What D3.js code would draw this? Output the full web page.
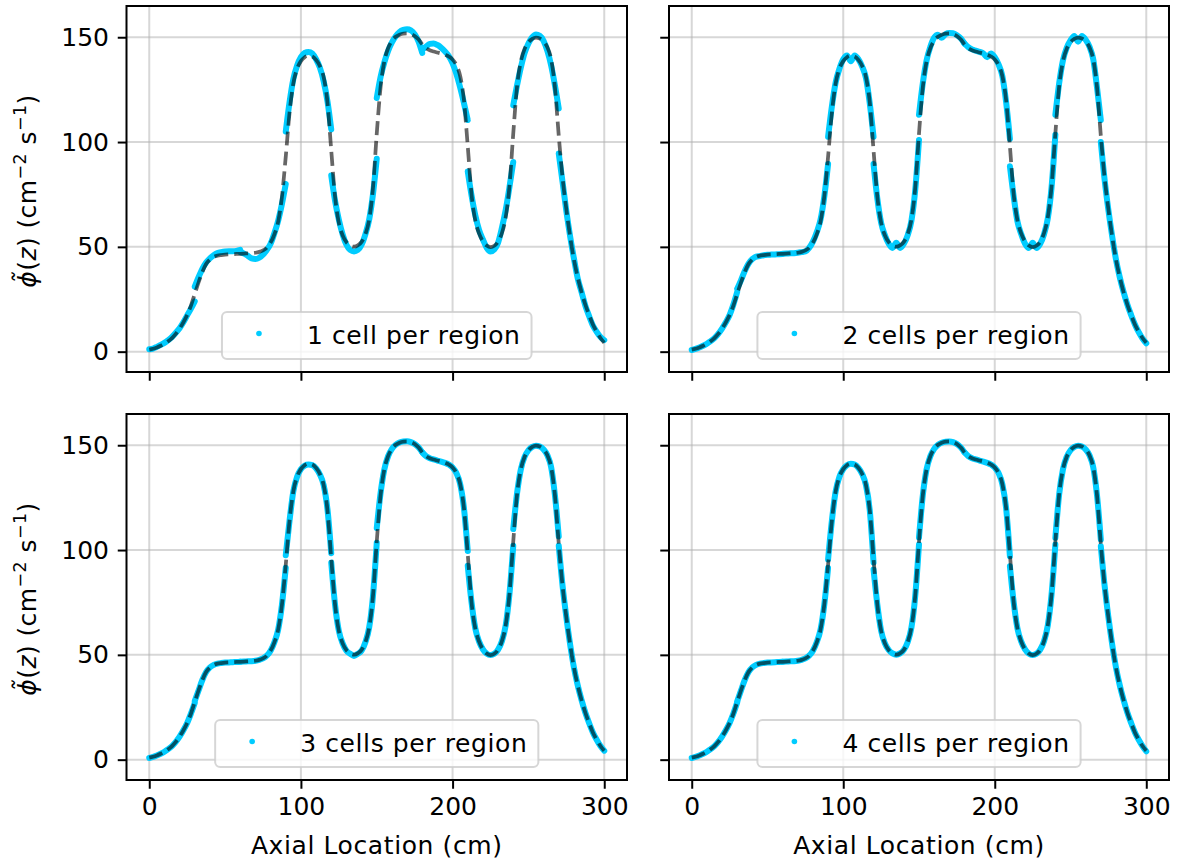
<!DOCTYPE html>
<html><head><meta charset="utf-8">
<script src="https://cdn.jsdelivr.net/npm/d3@7"></script>
<style>body{margin:0;background:#fff} svg{display:block} text{font-family:"DejaVu Sans",sans-serif;fill:#000}</style>
</head><body><svg id="c" width="1178" height="865"></svg>
<script>
// ---------------- data ----------------
const zGrid = [0,2.5,5,7.5,10,12.5,15,17.5,20,22.5,25,27.5,30,32.5,35,37.5,40,42.5,45,47.5,50,52.5,55,57.5,60,62.5,65,67.5,70,72.5,75,77.5,80,82.5,85,87.5,90,92.5,95,97.5,100,102.5,105,107.5,110,112.5,115,117.5,120,122.5,125,127.5,130,132.5,135,137.5,140,142.5,145,147.5,150,152.5,155,157.5,160,162.5,165,167.5,170,172.5,175,177.5,180,182.5,185,187.5,190,192.5,195,197.5,200,202.5,205,207.5,210,212.5,215,217.5,220,222.5,225,227.5,230,232.5,235,237.5,240,242.5,245,247.5,250,252.5,255,257.5,260,262.5,265,267.5,270,272.5,275,277.5,280,282.5,285,287.5,290,292.5,295,297.5,300];

const referenceFlux = [1.0,1.4,2.0,2.8,3.8,5.0,6.5,8.5,11.0,14.0,17.5,22.0,27.5,33.0,38.0,41.8,44.0,45.2,45.8,46.1,46.3,46.4,46.5,46.6,46.7,46.8,46.9,47.0,47.2,47.6,48.3,49.6,52.0,56.0,62.0,74.0,93.0,114.0,128.0,135.0,138.6,140.5,141.2,140.8,139.2,136.3,131.0,119.0,96.0,74.0,61.5,55.5,52.3,50.7,50.1,50.7,52.4,56.0,63.0,78.0,104.0,126.0,138.5,144.8,148.3,150.2,151.2,151.7,151.8,151.5,150.6,149.0,146.6,144.8,143.8,143.2,142.7,142.2,141.6,140.8,139.4,136.7,131.5,120.0,98.0,75.0,62.5,56.3,52.6,50.6,49.9,50.5,52.5,56.5,64.0,79.0,104.0,126.5,138.5,144.5,147.6,149.2,149.8,149.4,148.0,145.2,139.5,126.0,103.0,83.0,68.0,55.0,44.0,35.5,28.5,22.5,17.5,13.0,9.5,6.5,4.3];

// cyan reconstructions: 10 regions of 30 cm, 13 samples each (2.5 cm apart)
const oneCell = [
  [1.2,1.5,2.3,3.2,4.2,5.5,7.0,9.0,11.2,14.0,17.3,20.5,24.0],
  [31.0,35.5,39.5,42.5,44.5,46.0,47.0,47.5,47.8,47.9,47.9,48.1,48.6],
  [47.5,46.8,45.7,44.5,44.2,44.8,46.3,48.5,51.5,56.5,62.5,70.5,80.0],
  [105,119,130,136.5,140.5,142.5,143,142.2,139.5,135.5,129,119.5,106],
  [84,72,63,56,51,48.5,47.8,48.5,51,56,63,75,92],
  [121,131,138,143.5,147.5,150.5,152.5,153.5,153.8,153.3,151.5,148,142.5],
  [144,145.5,146.8,147,146.3,145,143.2,141,137.5,132.5,126,118.5,110.5],
  [86,74.5,65,58,53.5,49.5,47.8,48.8,52,59,67.5,78.5,90.5],
  [117.5,127,135.5,142.5,147,150,151.3,150.7,148.3,143.5,136.5,127,116],
  [94.5,81,67,55,44.5,35,28.5,22,17,12.5,9.5,7,5.5]
];
const twoCells = [
  [0.8,1.3,2.0,2.8,3.8,5.0,6.5,8.5,11.0,14.0,17.5,22.5,28.5],
  [30.0,34.0,38.5,42.0,44.2,45.3,45.6,46.0,46.2,46.3,46.4,46.5,46.6],
  [46.7,46.8,46.9,47.0,47.2,47.5,47.8,49.5,52.5,57.0,63.0,74.0,89.5],
  [102.5,117.0,128.5,135.0,139.5,141.3,138.5,141.3,139.5,136.0,130.5,118.5,102.5],
  [89.5,73.0,61.5,55.5,51.5,49.5,52.0,49.5,51.5,55.5,62.5,77.0,101.0],
  [113.0,128.0,139.0,145.5,149.8,151.2,149.8,151.5,152.0,151.9,151.0,149.5,147.0],
  [147.0,145.3,144.2,143.6,143.0,142.3,140.5,142.3,140.5,137.0,131.5,119.0,101.5],
  [88.5,74.0,62.0,56.0,51.5,49.5,52.0,49.5,51.5,56.0,63.5,78.5,103.5],
  [113.0,128.0,139.0,145.0,148.5,150.6,147.9,150.6,148.8,145.5,139.5,126.0,110.5],
  [100.0,82.0,67.5,55.0,44.0,35.5,28.5,22.5,17.5,13.0,9.3,6.3,4.0]
];
const threeCells = [
  [0.8,1.3,2.0,2.8,3.8,5.0,6.5,8.5,11.0,14.0,17.5,22.0,27.0],
  [28.0,33.0,38.0,41.8,44.0,45.2,45.8,46.1,46.3,46.4,46.5,46.6,46.7],
  [46.7,46.8,46.9,47.0,47.2,47.6,48.3,49.6,52.0,56.0,62.0,74.0,91.5],
  [97.5,114.0,128.0,135.0,138.6,140.3,140.8,140.5,139.0,136.0,131.0,119.5,98.5],
  [94.0,74.0,61.5,55.5,52.0,50.5,49.5,50.5,52.0,56.0,63.0,78.0,103.5],
  [110.5,127.0,138.5,144.8,148.3,150.2,151.3,151.8,151.9,151.5,150.6,149.0,146.6],
  [146.6,144.8,143.8,143.2,142.7,142.2,141.6,140.8,139.4,136.7,131.5,120.0,99.5],
  [92.5,75.0,62.5,56.3,52.6,50.6,49.9,50.5,52.5,56.5,64.0,79.0,102.0],
  [110.0,127.0,138.5,144.5,147.6,149.2,149.8,149.4,148.0,145.2,139.5,126.0,106.5],
  [102.0,83.0,68.0,55.0,44.0,35.5,28.5,22.5,17.5,13.0,9.5,6.5,4.3]
];
const fourCells = [
  [0.8,1.3,2.0,2.8,3.8,5.0,6.5,8.5,11.0,14.0,17.5,22.0,27.3],
  [27.8,33.0,38.0,41.8,44.0,45.2,45.8,46.1,46.3,46.4,46.5,46.6,46.7],
  [46.7,46.8,46.9,47.0,47.2,47.6,48.3,49.6,52.0,56.0,62.0,74.0,91.5],
  [95.5,114.0,128.0,135.0,138.6,140.5,141.2,140.8,139.2,136.3,131.0,119.0,94.0],
  [90.7,74.0,61.5,55.5,52.3,50.7,50.1,50.7,52.4,56.0,63.0,78.0,102.6],
  [106.0,126.0,138.5,144.8,148.3,150.2,151.2,151.7,151.8,151.5,150.6,149.0,146.6],
  [146.6,144.8,143.8,143.2,142.7,142.2,141.6,140.8,139.4,136.7,131.5,120.0,97.0],
  [92.3,75.0,62.5,56.3,52.6,50.6,49.9,50.5,52.5,56.5,64.0,79.0,102.6],
  [105.8,126.5,138.5,144.5,147.6,149.2,149.8,149.4,148.0,145.2,139.5,126.0,105.0],
  [101.8,83.0,68.0,55.0,44.0,35.5,28.5,22.5,17.5,13.0,9.5,6.5,4.0]
];
const panelSeries = [oneCell, twoCells, threeCells, fourCells];
const legendLabels = ["1 cell per region", "2 cells per region", "3 cells per region", "4 cells per region"];
const xTicks = [0, 100, 200, 300];
const yTicks = [0, 50, 100, 150];
const xAxisLabel = "Axial Location (cm)";

// ---------------- layout ----------------
const svg = d3.select("#c");
const cols = [[126.5, 627], [669, 1169]];
const rows = [[6, 372], [414, 780]];
const xDomain = [-15, 315], yDomain = [-9.7, 164.9];
const CYAN = "#00ccff";
const FS = 25;
const SAMPLES = 13;

panelSeries.forEach((regions, i) => {
  const c = i % 2, r = Math.floor(i / 2);
  const x = d3.scaleLinear().domain(xDomain).range(cols[c]);
  const y = d3.scaleLinear().domain(yDomain).range([rows[r][1], rows[r][0]]);
  const g = svg.append("g");
  const clipId = "clip" + i;
  svg.append("clipPath").attr("id", clipId).append("rect")
    .attr("x", cols[c][0]).attr("y", rows[r][0])
    .attr("width", cols[c][1] - cols[c][0]).attr("height", rows[r][1] - rows[r][0]);

  // grid
  g.append("g").selectAll("line").data(xTicks).join("line")
    .attr("x1", d => x(d)).attr("x2", d => x(d)).attr("y1", rows[r][0]).attr("y2", rows[r][1])
    .attr("stroke", "#b0b0b0").attr("stroke-opacity", 0.5).attr("stroke-width", 2);
  g.append("g").selectAll("line").data(yTicks).join("line")
    .attr("y1", d => y(d)).attr("y2", d => y(d)).attr("x1", cols[c][0]).attr("x2", cols[c][1])
    .attr("stroke", "#b0b0b0").attr("stroke-opacity", 0.5).attr("stroke-width", 2);

  const plot = g.append("g").attr("clip-path", `url(#${clipId})`);
  const line = d3.line().x(d => x(d[0])).y(d => y(d[1])).curve(d3.curveMonotoneX);

  // cyan piecewise reconstruction (dense dots -> thick round path per region)
  regions.forEach((vals, k) => {
    const zs = zGrid.slice(k * (SAMPLES - 1), k * (SAMPLES - 1) + SAMPLES);
    const pts = zs.map((z, j) => [z, vals[j]]);
    plot.append("path").attr("d", line(pts)).attr("fill", "none")
      .attr("stroke", CYAN).attr("stroke-width", 6)
      .attr("stroke-linecap", "round").attr("stroke-linejoin", "round");
  });

  // reference dashed line
  plot.append("path").attr("d", line(zGrid.map((z, j) => [z, referenceFlux[j]])))
    .attr("fill", "none").attr("stroke", "#000").attr("stroke-opacity", 0.6)
    .attr("stroke-width", 3.75).attr("stroke-dasharray", "13.9 6");

  // axes
  const xa = d3.axisBottom(x).tickValues(xTicks).tickSize(8.75).tickPadding(8.75);
  if (r === 0) xa.tickFormat("");
  const gx = g.append("g").attr("transform", `translate(0,${rows[r][1]})`).call(xa);
  const ya = d3.axisLeft(y).tickValues(yTicks).tickSize(8.75).tickPadding(8.75);
  if (c === 1) ya.tickFormat("");
  const gy = g.append("g").attr("transform", `translate(${cols[c][0]},0)`).call(ya);
  [gx, gy].forEach(a => {
    a.select(".domain").remove();
    a.selectAll(".tick line").attr("stroke", "#000").attr("stroke-width", 2);
    a.selectAll(".tick text").attr("font-size", FS).attr("font-family", "DejaVu Sans").attr("fill", "#000");
  });

  // spines
  g.append("rect").attr("x", cols[c][0]).attr("y", rows[r][0])
    .attr("width", cols[c][1] - cols[c][0]).attr("height", rows[r][1] - rows[r][0])
    .attr("fill", "none").attr("stroke", "#000").attr("stroke-width", 2);

  // legend (lower center)
  const cx = (cols[c][0] + cols[c][1]) / 2;
  const lg = g.append("g");
  const box = lg.append("rect");
  const txt = lg.append("text").attr("font-size", FS).attr("letter-spacing", "0.6px").text(legendLabels[i]);
  const tw = txt.node().getComputedTextLength();
  const bw = 85 + tw + 11, bh = 47;
  const bx = cx - bw / 2, by = rows[r][1] - 13 - bh;
  box.attr("x", bx).attr("y", by).attr("width", bw).attr("height", bh).attr("rx", 5)
    .attr("fill", "#fff").attr("fill-opacity", 0.8).attr("stroke", "#cccccc").attr("stroke-opacity", 0.8).attr("stroke-width", 2);
  txt.attr("x", bx + 85).attr("y", by + 31.5);
  lg.append("circle").attr("cx", bx + 37).attr("cy", by + 21.5).attr("r", 2.8).attr("fill", CYAN);

  // x label
  if (r === 1) {
    g.append("text").attr("x", cx).attr("y", 854).attr("text-anchor", "middle")
      .attr("font-size", FS).attr("letter-spacing", "0.6px").text(xAxisLabel);
  }
  // y label
  if (c === 0) {
    const cy = (rows[r][0] + rows[r][1]) / 2 + 2;
    const t = g.append("text").attr("transform", `translate(36,${cy}) rotate(-90)`)
      .attr("text-anchor", "middle").attr("font-size", FS).attr("letter-spacing", "0.4px");
    t.append("tspan").attr("font-style", "italic").text("\u03D5\u0303");
    t.append("tspan").text("(");
    t.append("tspan").attr("font-style", "italic").text("z");
    t.append("tspan").text(") (cm");
    t.append("tspan").attr("dy", -10).attr("font-size", 17.5).text("\u22122");
    t.append("tspan").attr("dy", 10).text(" s");
    t.append("tspan").attr("dy", -10).attr("font-size", 17.5).text("\u22121");
    t.append("tspan").attr("dy", 10).text(")");
  }
});
</script>
</body></html>
